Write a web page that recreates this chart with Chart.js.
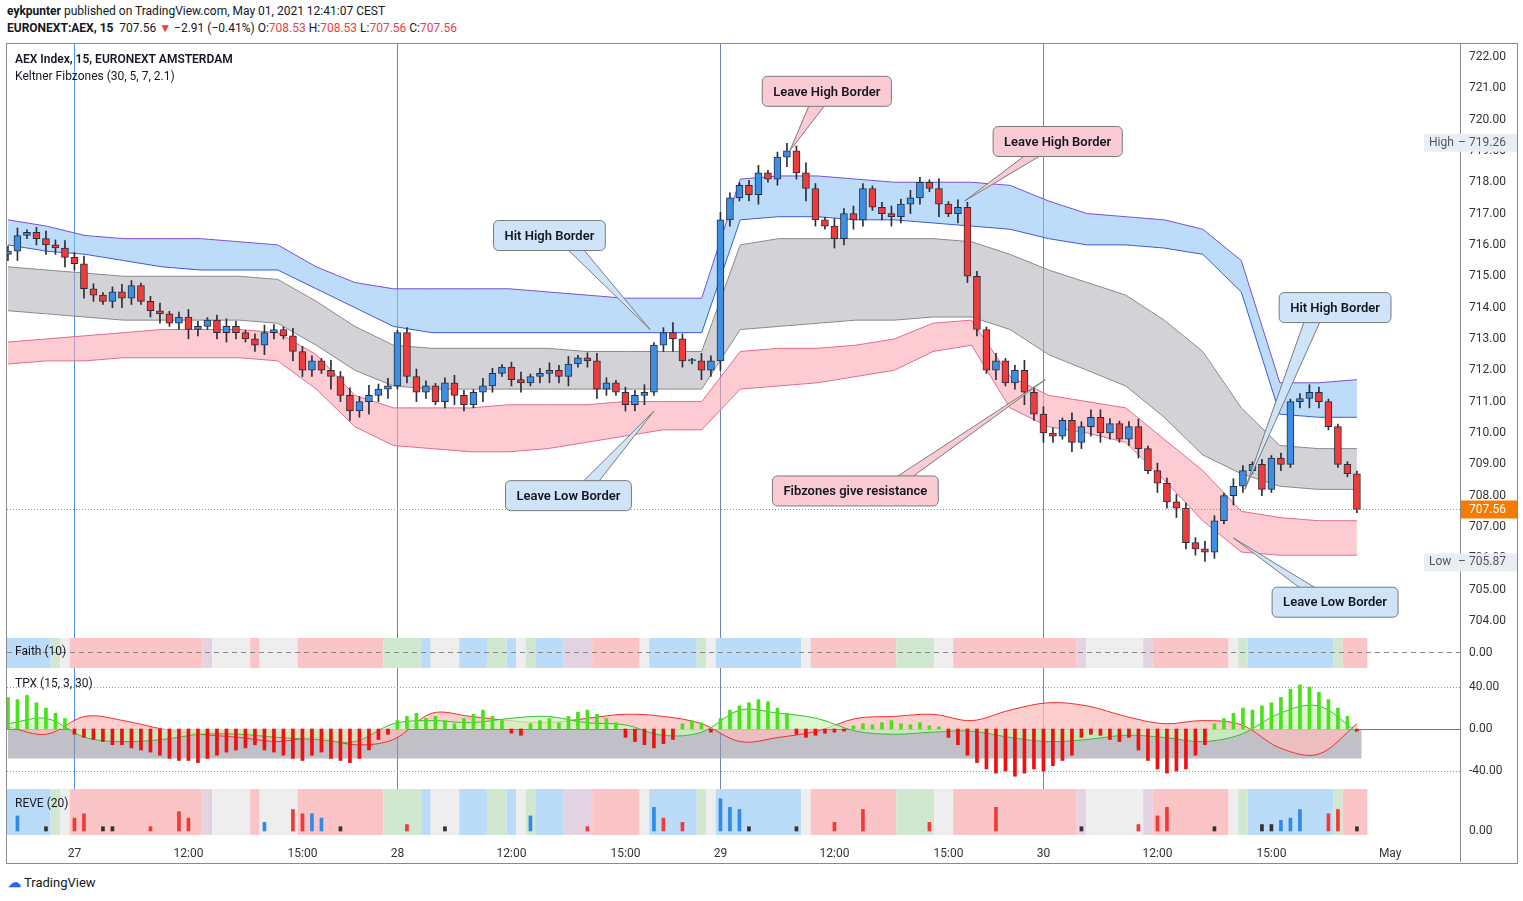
<!DOCTYPE html>
<html><head><meta charset="utf-8">
<script src="https://cdn.jsdelivr.net/npm/chart.js@4"></script>
<style>
body{margin:0;background:#fff;font-family:Roboto,"Noto Sans",sans-serif;width:1523px;height:901px;position:relative;overflow:hidden;color:#131722}
.p{position:absolute;left:7px;width:1510px}
canvas{display:block}
#frame{position:absolute;left:6px;top:43px;width:1510px;height:819px;border:1px solid #8a8a8a}
.hd{position:absolute;left:7px;font-size:12px;white-space:nowrap}
.r{color:#ef3b3b}
</style></head><body>
<div class="hd" style="top:4px"><b>eykpunter</b> published on TradingView.com, May 01, 2021 12:41:07 CEST</div>
<div class="hd" style="top:21px"><b>EURONEXT:AEX, 15</b> &nbsp;707.56 <span class="r">▼</span> −2.91 (−0.41%) O:<span class="r">708.53</span> H:<span class="r">708.53</span> L:<span class="r">707.56</span> C:<span class="r">707.56</span></div>
<div id="frame"></div>
<div class="p" style="top:44px;height:593px"><canvas id="main" width="1510" height="593"></canvas></div>
<div class="p" style="top:637px;height:31px"><canvas id="faith" width="1510" height="31"></canvas></div>
<div class="p" style="top:668px;height:120px"><canvas id="tpx" width="1510" height="120"></canvas></div>
<div class="p" style="top:788px;height:74px"><canvas id="reve" width="1510" height="74"></canvas></div>
<div class="hd" style="top:875px;left:8px;font-size:13px"><span style="color:#2962ff;font-weight:bold">☁</span> TradingView</div>
<script>
// ---- data ----
const closes = [
  715.8,716.3,716.4,716.2,716.0,715.9,715.6,
  715.4,714.6,714.4,714.2,714.5,714.3,714.7,714.2,713.9,713.8,713.5,713.7,713.3,713.4,713.6,713.2,713.4,713.2,713.0,712.8,713.2,713.3,713.1,712.6,712.0,712.3,712.0,711.8,711.2,710.7,711.0,711.2,711.4,711.5,
  713.2,711.8,711.3,711.5,711.0,711.6,711.2,710.9,711.3,711.5,711.9,712.1,711.7,711.6,711.8,711.9,712.0,711.8,712.2,712.4,712.3,
  711.4,711.6,711.3,710.9,711.2,711.3,712.8,713.2,713.0,712.3,712.3,712.0,712.3,
  716.8,717.5,717.9,717.6,718.3,718.1,718.8,719.0,718.3,717.8,716.8,716.6,716.2,717.0,716.8,717.8,717.2,717.0,716.9,717.3,717.5,718.0,717.8,717.3,717.0,717.2,715.0,713.3,712.0,712.3,711.6,712.0,711.3,710.6,
  710.0,709.9,710.4,709.7,710.2,710.5,710.0,710.3,709.8,710.2,709.5,708.8,708.4,707.8,707.6,706.5,706.3,706.2,707.2,708.0,708.3,708.8,709.0,708.2,709.2,709.0,711.0,711.1,711.3,711.0,710.2,709.0,708.7,707.56
];
const firstOpen = 715.7;
// wick length per bar, tenths of a point
const wicks = "2312323232123212312321232123213221" + "42324231232123213212312323123212" + "2312421323212312324213232123232141" + "3221312423213233212313232232132120" + "21232";

// Keltner fibzone borders, sampled hourly
const blueTop = [716.8,716.6,716.3,716.2,716.2,716.2,716.1,716.0,715.3,714.8,714.6,714.6,714.6,714.6,714.5,714.4,714.3,714.3,714.3,718.1,718.2,718.2,718.1,718.0,718.0,718.0,717.9,717.4,717.0,716.9,716.8,716.5,715.5,711.6,711.6,711.7];
const blueBot = [716.0,715.8,715.7,715.5,715.3,715.2,715.2,715.2,714.6,714.0,713.4,713.2,713.2,713.2,713.2,713.2,713.2,713.2,713.2,716.8,716.9,716.9,716.8,716.8,716.7,716.6,716.5,716.2,716.0,716.0,715.9,715.7,714.5,710.6,710.5,710.5];
const greyTop = [715.3,715.2,715.1,715.0,715.0,715.0,715.0,714.9,714.2,713.4,712.8,712.7,712.7,712.7,712.7,712.6,712.6,712.6,712.6,716.0,716.2,716.2,716.2,716.2,716.2,716.1,715.7,715.2,714.8,714.4,713.6,712.6,710.8,709.6,709.5,709.5];
const greyBot = [713.9,713.8,713.7,713.6,713.6,713.6,713.6,713.5,712.8,712.0,711.5,711.4,711.4,711.4,711.4,711.4,711.4,711.4,711.4,713.3,713.4,713.5,713.6,713.6,713.7,713.7,713.3,712.5,712.0,711.5,710.5,709.3,708.7,708.3,708.2,708.2];
const pinkTop = [712.9,713.0,713.1,713.2,713.3,713.3,713.3,713.2,712.5,711.2,710.8,710.8,710.8,710.9,710.9,710.9,711.0,711.0,711.0,712.6,712.7,712.7,712.8,713.0,713.5,713.6,711.8,711.2,711.0,710.8,709.8,708.8,707.5,707.3,707.2,707.2];
const pinkBot = [712.2,712.3,712.3,712.4,712.4,712.4,712.4,712.3,711.4,710.2,709.6,709.5,709.4,709.4,709.5,709.7,709.9,710.1,710.1,711.4,711.5,711.6,711.8,712.0,712.6,712.8,710.8,710.2,710.0,709.7,708.5,707.2,706.2,706.1,706.1,706.1];

// TPX histogram per bar and its two waves (hourly)
const tpxHist = [
  30,28,32,25,20,15,10,
  -5,-8,-10,-12,-15,-15,-18,-20,-22,-25,-28,-30,-30,-32,-28,-25,-22,-20,-18,-15,-20,-22,-25,-28,-30,-25,-22,-28,-30,-32,-28,-20,-10,-5,
  8,12,15,10,12,8,5,10,14,18,12,8,-4,-6,5,8,10,6,12,16,18,14,10,6,-8,-12,-15,-18,-14,-10,5,8,6,-3,
  10,18,22,25,28,26,20,15,-5,-8,-6,-4,-3,-2,3,5,4,6,8,5,4,6,3,2,-8,-15,-25,-32,-38,-42,-40,-45,-42,-38,
  -40,-35,-30,-25,-8,-5,-6,-10,-12,-8,-20,-30,-38,-42,-40,-38,-25,-15,5,10,15,20,18,22,25,30,38,42,40,35,28,20,12,-2
];
const tpxRed = [2,-5,12,8,0,-5,-8,-12,-8,-15,-10,15,12,8,6,10,14,12,5,-12,-8,-2,10,12,14,8,18,25,22,12,5,8,4,-18,-24,5];
const tpxGreen = [5,10,-8,-12,-10,-5,-5,-8,-10,-12,5,8,6,10,12,6,4,-6,-3,18,15,10,-2,-5,-3,-2,-8,-12,-10,-6,-8,-12,-5,15,22,-3];
const tpxFloor = -28;

// REVE spikes: bar, height, colour kind
const reveBars = [1,4,7,8,10,11,15,18,19,27,30,31,32,33,35,42,46,55,61,68,69,71,75,76,77,78,83,87,90,97,104,113,119,121,122,127,132,133,134,135,136,139,140,142];
const reveVals = [.35,.1,.3,.4,.1,.1,.1,.45,.3,.2,.5,.4,.4,.3,.1,.15,.1,.35,.1,.55,.3,.2,.75,.55,.5,.1,.1,.2,.5,.2,.55,.1,.15,.35,.55,.1,.15,.15,.25,.3,.5,.4,.5,.1];
const reveKind = ['b','k','r','r','k','k','r','r','r','b','r','r','b','b','k','r','k','b','r','b','r','r','b','b','b','k','k','r','r','r','r','k','r','r','r','k','k','k','b','b','b','r','r','k'];

// Faith / REVE zone colouring: start bar of each zone
const zoneStart = [0,5,6,7,21,22,26,27,31,40,44,45,48,51,53,54,55,56,59,62,67,68,73,74,75,84,85,94,98,100,113,114,120,121,129,130,131,140,141];
const zoneKind = ['blue','green','grey','pink','lav','grey','pink','grey','pink','green','blue','grey','blue','green','blue','grey','green','blue','lav','pink','grey','blue','green','grey','blue','grey','pink','green','grey','pink','lav','grey','lav','pink','grey','green','blue','green','pink'];

const dayBars = [7,41,75,109];
const tickBars = [7,19,31,41,53,65,75,87,99,109,121,133,145.5];
const tickLabels = ['27','12:00','15:00','28','12:00','15:00','29','12:00','15:00','30','12:00','15:00','May'];
const priceTicks = [704,705,706,707,708,709,710,711,712,713,714,715,716,717,718,719,720,721,722];
const dayHigh = 719.26, dayLow = 705.87;

const notes = [
  {t:'Leave High Border', bx:86.2, by:720.9, ax:82.3, ay:719.0, kind:'pink'},
  {t:'Leave High Border', bx:110.5, by:719.3, ax:100.7, ay:717.4, kind:'pink'},
  {t:'Hit High Border', bx:57, by:716.3, ax:67.6, ay:713.3, kind:'blue'},
  {t:'Hit High Border', bx:139.7, by:714.0, ax:130.2, ay:708.2, kind:'blue'},
  {t:'Leave Low Border', bx:59, by:708.0, ax:68, ay:710.7, kind:'blue'},
  {t:'Fibzones give resistance', bx:89.2, by:708.15, ax:109.2, ay:711.7, kind:'pink'},
  {t:'Leave Low Border', bx:139.7, by:704.6, ax:129, ay:706.65, kind:'blue'}
];

// ---- helpers ----
const XMIN = -0.1, XMAX = 152.85, AXIS_W = 57;
const zoneCol = {blue:'#bbdcf8', green:'#cfe8cf', grey:'#eeeeee', pink:'#fbc4c6', lav:'#e3d3e3'};
const reveCol = {b:'#2f8ae8', r:'#f03a3a', k:'#333'};
const hourX = h => h * 142 / 35;
const hourly = arr => arr.map((v, h) => ({x: hourX(h), y: v}));
const FONT = {family: 'Roboto', size: 12};

const opens = closes.map((c, i) => i === 0 ? firstOpen : closes[i - 1]);
const bodies = closes.map((c, i) => ({x: i, y: [opens[i], Math.abs(c - opens[i]) < 0.03 ? c + 0.04 : c]}));
const shadows = closes.map((c, i) => {
  const w = (+wicks[i] || 1) / 10;
  return {x: i, y: [Math.min(c, opens[i]) - w, Math.max(c, opens[i]) + w * 0.8]};
});
const candleCol = closes.map((c, i) => c >= opens[i] ? '#3d8fe6' : '#ef3b3b');

function xScale(show) {
  return {type: 'linear', min: XMIN, max: XMAX, offset: false, display: show, grid: {display: false},
    border: {display: false},
    afterBuildTicks: s => { s.ticks = tickBars.map(v => ({value: v})); },
    ticks: {autoSkip: false, maxRotation: 0, color: '#333', font: FONT, padding: 4,
      callback: (v, i) => tickLabels[i]}};
}
function yScale(min, max, vals) {
  return {display: false, min, max, vals};
}
// right price axis drawn from the y scale
const yAxis = {
  id: 'yAxis',
  afterDraw(chart) {
    const {ctx, chartArea: a, scales: {y}} = chart;
    ctx.save();
    ctx.strokeStyle = '#8a8a8a'; ctx.lineWidth = 1;
    ctx.beginPath(); ctx.moveTo(a.right + 0.5, 0); ctx.lineTo(a.right + 0.5, chart.height); ctx.stroke();
    ctx.fillStyle = '#333'; ctx.font = '12px Roboto'; ctx.textBaseline = 'middle'; ctx.textAlign = 'left';
    y.options.vals.forEach(v => ctx.fillText(v.toFixed(2), a.right + 9, y.getPixelForValue(v)));
    ctx.restore();
  }
};
const dayLines = {
  id: 'dayLines',
  beforeDatasetsDraw(chart) {
    const {ctx, chartArea: a, scales: {x}} = chart;
    ctx.save();
    ctx.lineWidth = 1;
    dayBars.forEach((d, k) => {
      ctx.strokeStyle = (k === 1 || k === 2) ? '#6f84ad' : '#4a8fe0';
      const px = Math.round(x.getPixelForValue(d)) + 0.5;
      ctx.beginPath(); ctx.moveTo(px, a.top); ctx.lineTo(px, a.bottom); ctx.stroke();
    });
    ctx.restore();
  }
};
const zones = {
  id: 'zones',
  beforeDatasetsDraw(chart, args, o) {
    if (!o.on) return;
    const {ctx, chartArea: a, scales: {x}} = chart;
    ctx.save();
    zoneStart.forEach((s, k) => {
      const e = k + 1 < zoneStart.length ? zoneStart[k + 1] : 143.6;
      const x0 = x.getPixelForValue(s - 0.5), x1 = x.getPixelForValue(e - 0.5);
      ctx.fillStyle = zoneCol[zoneKind[k]];
      ctx.fillRect(x0, a.top + o.pad, x1 - x0, a.bottom - a.top - o.pad);
    });
    ctx.restore();
  }
};
const label = {
  id: 'label',
  afterDraw(chart, args, o) {
    if (!o.text) return;
    const {ctx, chartArea: a} = chart;
    ctx.save();
    ctx.fillStyle = '#131722'; ctx.textBaseline = 'top';
    o.text.forEach((t, i) => {
      ctx.font = (i === 0 && o.bold ? '600 ' : '') + '12px Roboto';
      ctx.fillText(t, a.left + 8, a.top + o.top + i * 17);
    });
    ctx.restore();
  }
};
Chart.register(dayLines, zones, label, yAxis);

function rrect(ctx, x, y, w, h, r) {
  ctx.beginPath();
  ctx.moveTo(x + r, y); ctx.arcTo(x + w, y, x + w, y + h, r); ctx.arcTo(x + w, y + h, x, y + h, r);
  ctx.arcTo(x, y + h, x, y, r); ctx.arcTo(x, y, x + w, y, r); ctx.closePath();
}

const mainExtras = {
  id: 'mainExtras',
  afterDatasetsDraw(chart) {
    const {ctx, chartArea: a, scales: {x, y}} = chart;
    ctx.save();
    const last = closes[closes.length - 1];
    const py = Math.round(y.getPixelForValue(last)) + 0.5;
    ctx.strokeStyle = '#f57c00'; ctx.setLineDash([1, 2]);
    ctx.beginPath(); ctx.moveTo(a.left, py); ctx.lineTo(a.right, py); ctx.stroke();
    ctx.setLineDash([]);
    notes.forEach(n => {
      ctx.font = '600 13px Roboto';
      const w = ctx.measureText(n.t).width + 22, h = 30;
      const cx = x.getPixelForValue(n.bx), cy = y.getPixelForValue(n.by);
      const tx = x.getPixelForValue(n.ax), ty = y.getPixelForValue(n.ay);
      const fill = n.kind === 'pink' ? '#fbcbd3' : '#cfe4f8';
      const bx = cx + (tx - cx) * 0.25, byy = cy + (ty > cy ? h / 2 - 2 : -h / 2 + 2);
      ctx.fillStyle = fill; ctx.strokeStyle = '#7a7a7a'; ctx.lineWidth = 1;
      ctx.beginPath(); ctx.moveTo(bx - 8, byy); ctx.lineTo(tx, ty); ctx.lineTo(bx + 8, byy); ctx.closePath();
      ctx.fill(); ctx.stroke();
      rrect(ctx, cx - w / 2, cy - h / 2, w, h, 5); ctx.fill(); ctx.stroke();
      ctx.fillStyle = '#131722'; ctx.textAlign = 'center'; ctx.textBaseline = 'middle';
      ctx.fillText(n.t, cx, cy + 1);
    });
    ctx.restore();
  },
  afterDraw(chart) {
    const {ctx, chartArea: a, scales: {y}} = chart;
    const last = closes[closes.length - 1];
    const py = Math.round(y.getPixelForValue(last)) + 0.5;
    ctx.save();
    ctx.textBaseline = 'middle'; ctx.font = '12px Roboto';
    [['High', dayHigh], ['Low', dayLow]].forEach(([t, v]) => {
      const yy = y.getPixelForValue(v);
      ctx.fillStyle = '#e9eef5'; ctx.fillRect(a.right - 36, yy - 9, 93, 18);
      ctx.fillStyle = '#555'; ctx.textAlign = 'left';
      ctx.fillText(t, a.right - 31, yy); ctx.fillText('–', a.right - 2, yy);
      ctx.fillText(v.toFixed(2), a.right + 9, yy);
    });
    ctx.fillStyle = '#f57c00'; ctx.fillRect(a.right + 1, py - 9, 56, 18);
    ctx.fillStyle = '#fff'; ctx.textAlign = 'left'; ctx.fillText(last.toFixed(2), a.right + 9, py);
    ctx.restore();
  }
};

const band = (data, color, fill, bg) => ({type: 'line', data: hourly(data), borderColor: color,
  borderWidth: 1, pointRadius: 0, tension: 0, fill: fill, backgroundColor: bg, order: 10});
const baseOpts = (extra) => Object.assign({responsive: false, animation: false,
  layout: {padding: {left: 0, right: AXIS_W, top: 0, bottom: 0}}}, extra);

new Chart(document.getElementById('main'), {
  type: 'bar',
  data: {datasets: [
    band(blueTop, '#7b4fd6', false),
    band(blueBot, '#3d5bd6', '-1', 'rgba(144,196,245,0.6)'),
    band(greyTop, '#8a8a8a', false),
    band(greyBot, '#8a8a8a', '-1', 'rgba(175,175,182,0.55)'),
    band(pinkTop, '#e26b8c', false),
    band(pinkBot, '#e26b8c', '-1', 'rgba(250,170,180,0.6)'),
    {data: shadows, backgroundColor: '#2a2e39', barThickness: 1, grouped: false, order: 2},
    {data: bodies, backgroundColor: candleCol, borderColor: '#2a2e39', borderWidth: 1,
      borderSkipped: false, barThickness: 7, grouped: false, order: 1}
  ]},
  options: baseOpts({
    plugins: {legend: {display: false}, tooltip: {enabled: false},
      label: {text: ['AEX Index, 15, EURONEXT AMSTERDAM', 'Keltner Fibzones (30, 5, 7, 2.1)'], top: 10, bold: true}},
    scales: {x: xScale(false), y: yScale(703.49, 722.41, priceTicks)}}),
  plugins: [mainExtras]
});

new Chart(document.getElementById('faith'), {
  type: 'line',
  data: {datasets: [{data: [{x: XMIN, y: 0}, {x: XMAX, y: 0}], borderColor: '#888', borderWidth: 1,
    borderDash: [5, 4], pointRadius: 0}]},
  options: baseOpts({
    plugins: {legend: {display: false}, tooltip: {enabled: false}, zones: {on: true, pad: 1},
      label: {text: ['Faith (10)'], top: 9}},
    scales: {x: xScale(false), y: yScale(-1, 1, [0])}})
});

new Chart(document.getElementById('tpx'), {
  type: 'bar',
  data: {datasets: [
    {type: 'line', data: [{x: 0, y: tpxFloor}, {x: 142.5, y: tpxFloor}], borderWidth: 0, pointRadius: 0,
      fill: 'origin', backgroundColor: 'rgba(150,150,160,0.6)', order: 5},
    {type: 'line', data: hourly(tpxRed), borderColor: '#ef2f2f', borderWidth: 1, pointRadius: 0,
      tension: 0.35, fill: 'origin', backgroundColor: 'rgba(251,190,190,0.75)', order: 4},
    {type: 'line', data: hourly(tpxGreen), borderColor: '#3cb83c', borderWidth: 1, pointRadius: 0,
      tension: 0.35, fill: 'origin', backgroundColor: 'rgba(205,245,190,0.75)', order: 3},
    {data: tpxHist.map((v, i) => ({x: i, y: v})), barThickness: 3, grouped: false, order: 1,
      backgroundColor: tpxHist.map(v => v >= 0 ? '#4be01c' : '#f01010')}
  ]},
  options: baseOpts({
    plugins: {legend: {display: false}, tooltip: {enabled: false}, label: {text: ['TPX (15, 3, 30)'], top: 10}},
    scales: {x: xScale(false), y: yScale(-56.2, 58.1, [-40, 0, 40])}}),
  plugins: [{id: 'tpxLines', beforeDatasetsDraw(chart) {
    const {ctx, chartArea: a, scales: {y}} = chart;
    ctx.save(); ctx.strokeStyle = '#999'; ctx.lineWidth = 1;
    [40, -40].forEach(v => {
      const py = Math.round(y.getPixelForValue(v)) + 0.5;
      ctx.setLineDash([1, 2]); ctx.beginPath(); ctx.moveTo(a.left, py); ctx.lineTo(a.right, py); ctx.stroke();
    });
    ctx.setLineDash([]); ctx.strokeStyle = '#777';
    const p0 = Math.round(y.getPixelForValue(0)) + 0.5;
    ctx.beginPath(); ctx.moveTo(a.left, p0); ctx.lineTo(a.right, p0); ctx.stroke();
    ctx.restore();
  }}]
});

new Chart(document.getElementById('reve'), {
  type: 'bar',
  data: {datasets: [{data: reveBars.map((b, k) => ({x: b, y: reveVals[k]})), barThickness: 3,
    backgroundColor: reveKind.map(k => reveCol[k])}]},
  options: baseOpts({
    plugins: {legend: {display: false}, tooltip: {enabled: false}, zones: {on: true, pad: 1},
      label: {text: ['REVE (20)'], top: 10}},
    scales: {x: Object.assign(xScale(true), {afterFit: s => { s.height = 27; }}),
      y: yScale(-0.093, 1, [0])}})
});
</script>
</body></html>
